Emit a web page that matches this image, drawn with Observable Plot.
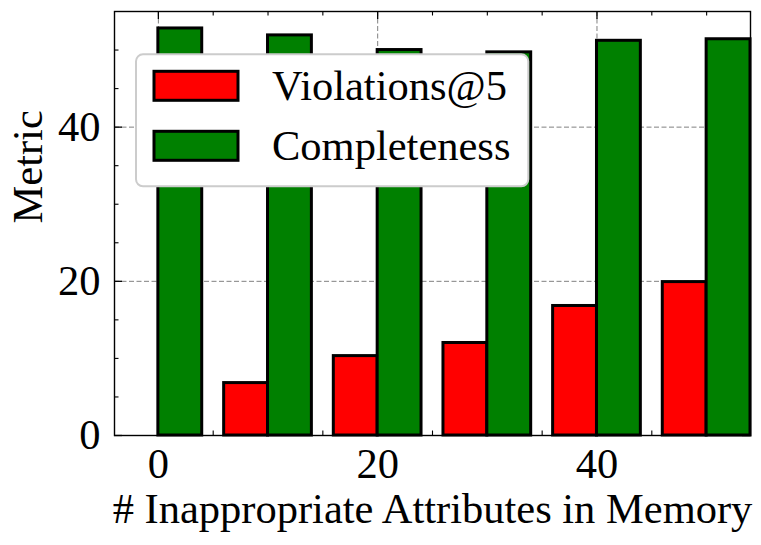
<!DOCTYPE html>
<html>
<head>
<meta charset="utf-8">
<script src="https://cdn.jsdelivr.net/npm/d3@7"></script>
<script src="https://cdn.jsdelivr.net/npm/@observablehq/plot@0.6"></script>
<style>
  html, body { margin: 0; padding: 0; background: #fff; }
  #chart { position: relative; width: 761px; height: 545px; }
  svg { font-family: "Liberation Serif", "Times New Roman", serif; }
</style>
</head>
<body>
<div id="chart"></div>
<script>
// Number of inappropriate attributes placed in memory
const attributes = [0, 10, 20, 30, 40, 50];
// Metric values per setting
const violations = [0, 6.8, 10.3, 12.0, 16.8, 19.9];
const completeness = [52.8, 51.9, 50.0, 49.7, 51.2, 51.4];
const seriesNames = ["Violations@5", "Completeness"];
const seriesColors = ["#ff0000", "#008000"];

// Axis ticks
const xMajor = [0, 20, 40];
const xMinor = [5, 10, 15, 25, 30, 35, 45, 50];
const yMajor = [0, 20, 40];
const yMinor = [5, 10, 15, 25, 30, 35, 45, 50];

const W = 761, H = 545;
const mL = 114, mR = 11, mT = 11, mB = 110;
const frameW = W - mL - mR, frameH = H - mT - mB;
const barW = 4;
const majorLen = 8, minorLen = 4.5;
const fontSize = 42.5;

const rows = attributes.map((a, i) => ({a, v: violations[i], c: completeness[i]}));

const grid = {stroke: "#808080", strokeWidth: 1, strokeDasharray: "5,2.5"};
const barStyle = {stroke: "black", strokeWidth: 3};

const svg = Plot.plot({
  width: W,
  height: H,
  marginLeft: mL,
  marginRight: mR,
  marginTop: mT,
  marginBottom: mB,
  style: {fontFamily: "Liberation Serif, Times New Roman, serif", background: "white"},
  x: {domain: [-4, 54]},
  y: {domain: [0, 55]},
  marks: [
    // dashed grid at major ticks
    Plot.ruleX(xMajor, {x: d => d, ...grid}),
    Plot.ruleY(yMajor.filter(d => d > 0), {y: d => d, ...grid}),
    // inward ticks on all four sides
    Plot.tickX(xMajor, {x: d => d, insetTop: frameH - majorLen, stroke: "black", strokeWidth: 1.3}),
    Plot.tickX(xMinor, {x: d => d, insetTop: frameH - minorLen, stroke: "black", strokeWidth: 1.1}),
    Plot.tickX(xMajor, {x: d => d, insetBottom: frameH - majorLen, stroke: "black", strokeWidth: 1.3}),
    Plot.tickX(xMinor, {x: d => d, insetBottom: frameH - minorLen, stroke: "black", strokeWidth: 1.1}),
    Plot.tickY(yMajor, {y: d => d, insetRight: frameW - majorLen, stroke: "black", strokeWidth: 1.3}),
    Plot.tickY(yMinor, {y: d => d, insetRight: frameW - minorLen, stroke: "black", strokeWidth: 1.1}),
    Plot.tickY(yMajor, {y: d => d, insetLeft: frameW - majorLen, stroke: "black", strokeWidth: 1.3}),
    Plot.tickY(yMinor, {y: d => d, insetLeft: frameW - minorLen, stroke: "black", strokeWidth: 1.1}),
    // grouped bars: violations left of the position, completeness right of it
    Plot.rectY(rows, {x1: d => d.a - barW, x2: d => d.a, y: "v", fill: seriesColors[0], ...barStyle}),
    Plot.rectY(rows, {x1: d => d.a, x2: d => d.a + barW, y: "c", fill: seriesColors[1], ...barStyle}),
    Plot.frame({stroke: "black", strokeWidth: 1.4}),
    Plot.axisX(xMajor, {tickSize: 0, tickPadding: 12, fontSize, label: null, fill: "black"}),
    Plot.axisY(yMajor, {tickSize: 0, tickPadding: 14, fontSize, label: null, fill: "black"}),
    Plot.text(["# Inappropriate Attributes in Memory"], {
      frameAnchor: "bottom", lineAnchor: "bottom", dy: 87, fontSize, fill: "black"
    }),
    Plot.text(["Metric"], {
      frameAnchor: "left", rotate: -90, dx: -73, lineAnchor: "bottom", fontSize, fill: "black"
    })
  ]
});

// legend box in the upper left of the frame
const lg = d3.select(svg).append("g").attr("text-anchor", "start");
lg.append("rect")
  .attr("x", 136).attr("y", 54.3).attr("width", 392.3).attr("height", 132)
  .attr("rx", 7).attr("fill", "white").attr("stroke", "#cccccc").attr("stroke-width", 2);
seriesNames.forEach((name, i) => {
  const base = 100 + i * 60;
  lg.append("rect")
    .attr("x", 154).attr("y", base - 28.7).attr("width", 84).attr("height", 29)
    .attr("fill", seriesColors[i]).attr("stroke", "black").attr("stroke-width", 3);
  lg.append("text")
    .attr("x", 272).attr("y", base)
    .attr("font-size", fontSize).attr("fill", "black")
    .text(name);
});

document.getElementById("chart").appendChild(svg);
</script>
</body>
</html>
